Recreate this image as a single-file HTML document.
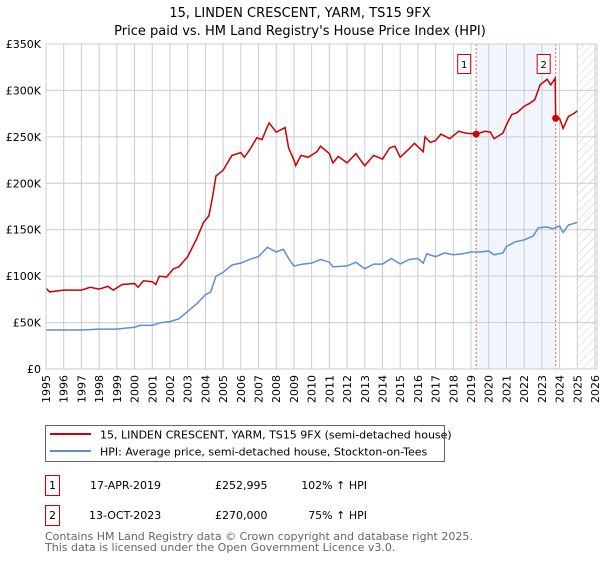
<!DOCTYPE html>
<html><head><meta charset="utf-8"><style>
body{margin:0;background:#fff;font-family:"DejaVu Sans","Liberation Sans",sans-serif;}
svg text{font-family:"DejaVu Sans","Liberation Sans",sans-serif;}
</style></head><body>
<svg id="chart" width="600" height="560" xmlns="http://www.w3.org/2000/svg">
<defs><pattern id="hatch" width="6" height="6" patternUnits="userSpaceOnUse" patternTransform="rotate(45)"><line x1="0" y1="0" x2="0" y2="6" stroke="#ccc" stroke-width="1"/></pattern></defs>
<text x="300" y="17" text-anchor="middle" font-size="13">15, LINDEN CRESCENT, YARM, TS15 9FX</text>
<text x="300" y="35" text-anchor="middle" font-size="13">Price paid vs. HM Land Registry's House Price Index (HPI)</text>
<g id="plot"></g>
<rect x="45.5" y="425.5" width="399" height="36" fill="#fff" stroke="#666"/>
<line x1="50" y1="434" x2="91" y2="434" stroke="#cc0000" stroke-width="2"/>
<text x="100" y="438.5" font-size="11">15, LINDEN CRESCENT, YARM, TS15 9FX (semi-detached house)</text>
<line x1="50" y1="451" x2="91" y2="451" stroke="#5b8fd4" stroke-width="2"/>
<text x="100" y="455.5" font-size="11">HPI: Average price, semi-detached house, Stockton-on-Tees</text>
<g font-size="11">
<rect x="45.5" y="475.5" width="14" height="20" fill="#fff" stroke="#cc0000"/>
<text x="52.5" y="489" text-anchor="middle">1</text>
<text x="90" y="489">17-APR-2019</text>
<text x="215" y="489">£252,995</text>
<text x="367" y="489" text-anchor="end">102% ↑ HPI</text>
</g>
<g font-size="11">
<rect x="45.5" y="505.5" width="14" height="20" fill="#fff" stroke="#cc0000"/>
<text x="52.5" y="519" text-anchor="middle">2</text>
<text x="89" y="519">13-OCT-2023</text>
<text x="215" y="519">£270,000</text>
<text x="367" y="519" text-anchor="end">75% ↑ HPI</text>
</g>
<text x="45" y="540" font-size="11" fill="#666">Contains HM Land Registry data © Crown copyright and database right 2025.</text>
<text x="45" y="551" font-size="11" fill="#666">This data is licensed under the Open Government Licence v3.0.</text>
</svg>
<script>
const yTicks=[0,50000,100000,150000,200000,250000,300000,350000];
const yTickLabels=["£0","£50K","£100K","£150K","£200K","£250K","£300K","£350K"];
const years=[];for(let y=1995;y<=2026;y++)years.push(y);
const redX=[1995.0,1995.2,1996,1997,1997.5,1998,1998.5,1998.8,1999.3,2000,2000.2,2000.5,2001,2001.2,2001.4,2001.8,2002.2,2002.5,2003,2003.5,2003.9,2004.2,2004.4,2004.6,2005,2005.5,2006,2006.2,2006.5,2006.9,2007.2,2007.5,2007.6,2008,2008.5,2008.7,2009,2009.1,2009.4,2009.8,2010.3,2010.5,2011,2011.2,2011.5,2012,2012.5,2012.8,2013,2013.5,2014,2014.4,2014.7,2015,2015.5,2015.8,2016.3,2016.4,2016.7,2017,2017.3,2017.8,2018.3,2018.7,2019.29,2019.8,2020.1,2020.3,2020.8,2021,2021.3,2021.6,2022,2022.3,2022.6,2022.9,2023.3,2023.5,2023.75,2023.78,2024.0,2024.2,2024.5,2024.8,2025];
const redY=[87,83,85,85,88,86,89,85,91,92,88,95,94,91,100,99,108,110,121,140,158,165,185,208,214,230,233,228,236,249,247,261,265,255,260,238,225,219,230,228,234,240,232,222,229,222,232,224,219,230,226,238,240,228,237,243,234,250,244,246,253,248,256,254,253,256,255,248,254,263,274,276,283,286,290,306,312,306,313,270,270,259,272,275,278];
const blueX=[1995,1996,1997,1998,1999,2000,2000.3,2001,2001.5,2002,2002.5,2003,2003.5,2004,2004.3,2004.6,2005,2005.5,2006,2006.5,2007,2007.5,2008,2008.4,2008.7,2009,2009.5,2010,2010.5,2011,2011.2,2012,2012.5,2013,2013.5,2014,2014.5,2015,2015.5,2016,2016.3,2016.5,2017,2017.5,2018,2018.5,2019,2019.5,2020,2020.3,2020.8,2021,2021.5,2022,2022.5,2022.8,2023.3,2023.6,2024,2024.2,2024.5,2025];
const blueY=[42,42,42,43,43,45,47,47,50,51,54,62,70,80,83,100,104,112,114,118,121,131,126,129,119,111,113,114,118,115,110,111,115,108,113,113,119,113,118,119,114,124,121,125,123,124,126,126,127,123,125,132,137,139,143,152,153,151,154,147,155,158];
const saleX=[2019.29,2023.78];
const saleY=[252995,270000];
const saleLabels=["1","2"];

const L=46,R=595,T=44,B=369;
const xs=v=>L+(v-1995)/(2026-1995)*(R-L);
const ys=v=>B-v/350000*(B-T);
const NS="http://www.w3.org/2000/svg";
const g=document.getElementById('plot');
function mk(t,a,p){const e=document.createElementNS(NS,t);for(const k in a)e.setAttribute(k,a[k]);(p||g).appendChild(e);return e;}
let e;
e=mk('rect',{x:xs(saleX[0]),y:T,width:xs(saleX[1])-xs(saleX[0]),height:B-T,fill:'#eef3fc',opacity:0.8});


e=mk('rect',{x:xs(2025),y:T,width:R-xs(2025)+2,height:B-T,fill:'url(#hatch)'});


years.forEach(y=>{const l=mk('line',{x1:xs(y),x2:xs(y),y1:T,y2:B,stroke:'#ccc','stroke-width':1});


const t=mk('text',{x:0,y:0,'font-size':11,'text-anchor':'end',transform:`translate(${xs(y)+4},${B+6}) rotate(-90)`});t.textContent=y;

});
yTicks.forEach((v,i)=>{const l=mk('line',{x1:L,x2:R+2,y1:ys(v),y2:ys(v),stroke:'#ccc','stroke-width':1});


const t=mk('text',{x:L-5,y:ys(v)+4,'font-size':11,'text-anchor':'end'});t.textContent=yTickLabels[i];

});
saleX.forEach((s,i)=>{const l=mk('line',{x1:xs(s),x2:xs(s),y1:T,y2:B,stroke:'#f06060','stroke-width':1,'stroke-dasharray':'2,2'});


const r=mk('rect',{x:xs(s)-18.5,y:54.5,width:13,height:19,fill:'#fff',stroke:'#cc0000'});


const t=mk('text',{x:xs(s)-12,y:68,'font-size':10,'text-anchor':'middle'});t.textContent=saleLabels[i];

});
e=mk('polyline',{points:blueX.map((x,i)=>xs(x)+','+ys(blueY[i]*1000)).join(' '),fill:'none',stroke:'#5b8fd4','stroke-width':1.5});


e=mk('polyline',{points:redX.map((x,i)=>xs(x)+','+ys(redY[i]*1000)).join(' '),fill:'none',stroke:'#cc0000','stroke-width':1.5});


saleX.forEach((s,i)=>{const c=mk('circle',{cx:xs(s),cy:ys(saleY[i]),r:3.5,fill:'#cc0000'});

});
e=mk('rect',{x:L,y:T,width:R-L+2,height:B-T,fill:'none',stroke:'#ccc'});


</script>
</body></html>
